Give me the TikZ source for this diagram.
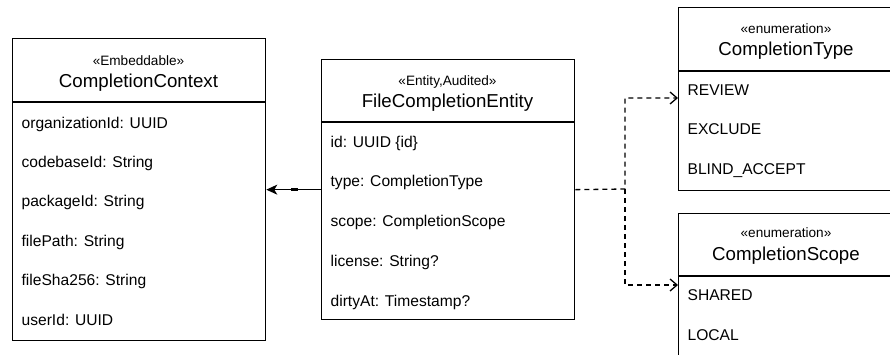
\documentclass[tikz,border=0pt]{standalone}
\usepackage{fontspec}
\setmainfont{Liberation Sans}
\usetikzlibrary{arrows.meta}
\begin{document}
\begin{tikzpicture}[x=1pt,y=-1pt,line width=1.3pt,
  classbox/.style={draw=black,anchor=north west,inner sep=0pt},
  stereo/.style={font=\fontsize{13.6}{15}\selectfont,inner sep=0pt,text height=0.9em,text depth=0.18em},
  cname/.style={font=\fontsize{18.7}{21}\selectfont,inner sep=0pt,text height=0.9em,text depth=0.18em},
  attr/.style={font=\fontsize{15.6}{18}\selectfont,anchor=west,inner sep=0pt,text height=0.9em,text depth=0.18em},
  assoc/.style={-{Stealth[length=11pt,width=10pt,inset=3pt]},line width=1.3pt},
  dep/.style={-{Straight Barb[length=7pt,width=12pt]},dash pattern=on 5pt off 4pt,line width=1.3pt}]
\clip (0,0) rectangle (890,354);
\fill[white] (0,0) rectangle (890,354);

% CompletionContext
\node[classbox,minimum width=253pt,minimum height=302pt] (ctx) at (12,38) {};
\draw (12,102) -- (265,102);
\node[stereo] (ctxS) at (138.5,62) {«Embeddable»};
\node[cname] (ctxN) at (138.5,84) {CompletionContext};
\node[attr] (ctx1) at (21,125) {organizationId: UUID};
\node[attr] (ctx2) at (21,164) {codebaseId: String};
\node[attr] (ctx3) at (21,203) {packageId: String};
\node[attr] (ctx4) at (21,243) {filePath: String};
\node[attr] (ctx5) at (21,282) {fileSha256: String};
\node[attr] (ctx6) at (21,322) {userId: UUID};

% FileCompletionEntity
\node[classbox,minimum width=253pt,minimum height=260pt] (fce) at (321,59) {};
\draw (321,122) -- (574,122);
\node[stereo] (fceS) at (447.5,82) {«Entity,Audited»};
\node[cname] (fceN) at (447.5,104) {FileCompletionEntity};
\node[attr] (fce1) at (330,144) {id: UUID \{id\}};
\node[attr] (fce2) at (330,183) {type: CompletionType};
\node[attr] (fce3) at (330,223) {scope: CompletionScope};
\node[attr] (fce4) at (330,263) {license: String?};
\node[attr] (fce5) at (330,303) {dirtyAt: Timestamp?};

% CompletionType
\node[classbox,minimum width=216pt,minimum height=183pt] (ctype) at (678,7) {};
\draw (678,71) -- (894,71);
\node[stereo] (ctypeS) at (786,30) {«enumeration»};
\node[cname] (ctypeN) at (786,52) {CompletionType};
\node[attr] (ct1) at (687,92) {REVIEW};
\node[attr] (ct2) at (687,131) {EXCLUDE};
\node[attr] (ct3) at (687,171) {BLIND\_ACCEPT};

% CompletionScope
\node[classbox,minimum width=216pt,minimum height=160pt] (cscope) at (678,213) {};
\draw (678,276) -- (894,276);
\node[stereo] (cscopeS) at (786,234) {«enumeration»};
\node[cname] (cscopeN) at (786,257) {CompletionScope};
\node[attr] (cs1) at (687,297) {SHARED};
\node[attr] (cs2) at (687,337) {LOCAL};

% association to the embeddable
\draw[assoc] (fce.west) -- (ctx.east);
\draw[line width=3pt] ([xshift=25pt]ctx.east) -- ([xshift=32pt]ctx.east);

% dependencies on the enumerations
\coordinate (split) at (625,189);
\coordinate (ctIn) at (678,98);
\coordinate (csIn) at (678,285);
\draw[dep] (fce.east) -- (split) |- (ctIn);
\draw[dep] (split) |- (csIn);
\end{tikzpicture}
\end{document}
